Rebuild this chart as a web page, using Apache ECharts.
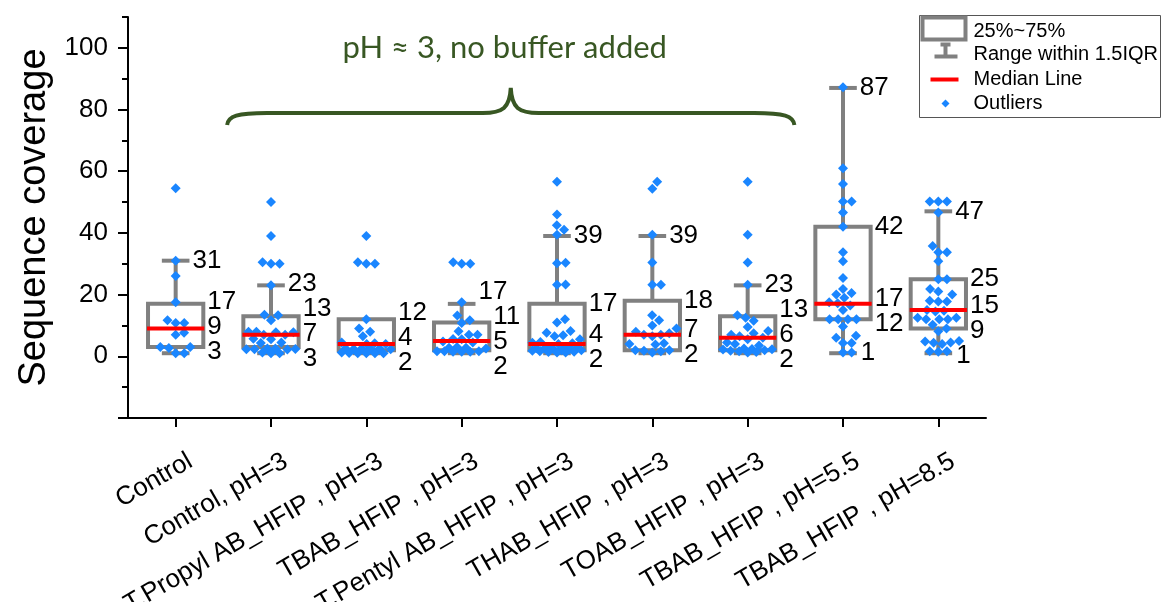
<!DOCTYPE html>
<html>
<head>
<meta charset="utf-8">
<script src="https://cdn.jsdelivr.net/npm/echarts@6/dist/echarts.min.js"></script>
<style>
  html, body { margin: 0; padding: 0; background: #ffffff; }
  #chart { width: 1161px; height: 602px; }
</style>
</head>
<body>
<div id="chart"></div>
<script>
// ---- data ----
const categories = [
  'Control', 'Control, pH=3', 'T.Propyl AB_HFIP , pH=3', 'TBAB_HFIP , pH=3',
  'T.Pentyl AB_HFIP , pH=3', 'THAB_HFIP , pH=3', 'TOAB_HFIP , pH=3',
  'TBAB_HFIP , pH=5.5', 'TBAB_HFIP , pH=8.5'
];

// box statistics (values printed next to each box)
const upperWhisker = [31, 23, 12, 17, 39, 39, 23, 87, 47];
const q3           = [17, 13, 12, 11, 17, 18, 13, 42, 25];
const median       = [9, 7, 4, 5, 4, 7, 6, 17, 15];
const q1           = [3, 3, 2, 2, 2, 2, 2, 12, 9];
const lowerWhisker = [1, 1, 1, 1, 1, 1, 1, 1, 1];
const lowerLabelShown = [false, false, false, false, false, false, false, true, true];

// individual measurements per condition
const ptsControl  = [54.5, 31, 26, 17.5, 11.7, 10.8, 10.8, 7.6, 7, 3, 3, 2.7, 1, 1];
const ptsCtrlPH3  = [50, 39, 30.5, 30, 30, 23, 13.5, 13.3, 11.7, 8, 8, 7.8, 7.8, 7, 7, 5.7, 5.5, 4.5, 4.3,
                     2.5, 2.5, 2.3, 2.3, 2.2, 2.4, 1.2, 1, 1];
const ptsTPropyl  = [39, 30.5, 30, 30, 12, 9, 8, 6.5, 4.5, 4.2, 4, 4, 2.5, 2.5, 2.4, 2.4, 2.3, 2.5,
                     1.2, 1, 1, 1, 1.1, 1];
const ptsTBAB3    = [30.5, 30, 30, 17.5, 13.2, 11.7, 10.8, 8.1, 7, 7, 5.6, 5.5, 4.8, 4.5, 3, 2.8, 2.8,
                     2.5, 1.6, 1.6, 1.5, 1.5, 1.6, 1.5];
const ptsTPentyl  = [56.6, 46, 42.5, 41, 39.4, 30.3, 30.2, 23.3, 23.2, 12, 11, 8.2, 7.6, 6.8, 6.5, 5.5,
                     4.6, 4.4, 4.2, 4, 3, 3, 2.8, 2.6, 2.5, 2.4, 2.2, 2, 2, 1.8, 1.6, 1.5, 1.4, 1.2, 1.2];
const ptsTHAB     = [56.6, 54.3, 39.4, 30.4, 23.2, 23.2, 13.3, 11.7, 10, 9, 8, 7.5, 7, 7, 6.5, 4.2, 4,
                     3.8, 2, 2, 1.8, 1.6, 1.2];
const ptsTOAB     = [56.6, 39.4, 30.4, 23.2, 13.3, 12.5, 11.5, 9.5, 8.2, 7.5, 7, 6.5, 6, 5.5, 4.5, 4,
                     3.5, 2.5, 2.4, 2.3, 2.2, 2, 1.8, 1.6, 1.4, 1.2];
const ptsTBAB55   = [87.2, 61, 55.9, 50.2, 50.2, 46.6, 42, 33.7, 30.8, 25.4, 21.8, 20.5, 20, 19, 17.2,
                     17.5, 16.5, 15, 12, 12, 12, 12, 9.7, 6.7, 6, 4.3, 4.3, 1.2, 1.2];
const ptsTBAB85   = [50.2, 50.2, 50.2, 46.6, 35.8, 33.7, 33.7, 30.8, 25, 25, 21.8, 21, 20, 18, 17.8,
                     17.8, 15, 14.8, 14.5, 12.5, 12.5, 12, 12, 12, 10.2, 9, 8.1, 5, 4.8, 4.5, 4.4, 4,
                     1.6, 1.6, 1.5];
const pointSets = [ptsControl, ptsCtrlPH3, ptsTPropyl, ptsTBAB3, ptsTPentyl, ptsTHAB, ptsTOAB,
                   ptsTBAB55, ptsTBAB85];

// axis ticks
const yMajorTicks = [-20, 0, 20, 40, 60, 80, 100];
const yTickLabels = [0, 20, 40, 60, 80, 100];
const yMinorTicks = [-10, 10, 30, 50, 70, 90, 110];

const annotationText = 'pH \u2248 3, no buffer added';
const legendTexts = ['25%~75%', 'Range within 1.5IQR', 'Median Line', 'Outliers'];

// ---- styles ----
const FONT = '"Liberation Sans", Arial, sans-serif';
const BOX_GRAY = '#808080';
const MEDIAN_RED = '#ff0000';
const POINT_BLUE = '#1a86ff';
const NOTE_GREEN = '#385723';
const BOX_FRAC = 0.58;   // box width relative to category band
const CAP_FRAC = 0.29;   // whisker cap width relative to band

const boxData = categories.map((_, i) => [i, lowerWhisker[i], q1[i], median[i], q3[i], upperWhisker[i]]);
const pointData = [];
pointSets.forEach((vals, c) => vals.forEach((v, k) => pointData.push([c, v, k])));

// simple beeswarm: spread equal-ish values sideways without overlap
function layoutSwarm(cat, api, halfLimit) {
  const vals = pointSets[cat];
  const d = 8.6;
  const ys = vals.map(v => api.coord([cat, v])[1]);
  const order = ys.map((_, k) => k).sort((a, b) => ys[b] - ys[a]);
  const placed = [];
  const offs = new Array(vals.length).fill(0);
  order.forEach(k => {
    const y = ys[k];
    const cands = [0];
    placed.forEach(p => {
      const dy = Math.abs(p.y - y);
      if (dy < d) {
        const dx = Math.sqrt(d * d - dy * dy);
        cands.push(p.x + dx, p.x - dx);
      }
    });
    cands.sort((a, b) => Math.abs(a) - Math.abs(b) || b - a);
    let best = null;
    for (const c of cands) {
      if (Math.abs(c) > halfLimit + 1e-6) continue;
      if (placed.every(p => (p.x - c) ** 2 + (p.y - y) ** 2 >= d * d - 1e-6)) { best = c; break; }
    }
    if (best === null) {
      let bestScore = -1;
      for (let c = -halfLimit; c <= halfLimit; c += 1) {
        let m = Infinity;
        placed.forEach(p => { m = Math.min(m, (p.x - c) ** 2 + (p.y - y) ** 2); });
        if (m > bestScore) { bestScore = m; best = c; }
      }
    }
    placed.push({ x: best, y });
    offs[k] = best;
  });
  return offs;
}

function spreadLabels(items, gap) {
  items.sort((a, b) => a.y - b.y);
  for (let it = 0; it < 200; it++) {
    let moved = false;
    for (let j = 0; j < items.length - 1; j++) {
      const dd = items[j + 1].y - items[j].y;
      if (dd < gap - 0.01) {
        const s = (gap - dd) / 2;
        items[j].y -= s; items[j + 1].y += s; moved = true;
      }
    }
    if (!moved) break;
  }
}

let swarmCache = {};

const chart = echarts.init(document.getElementById('chart'), null, { renderer: 'canvas' });

const option = {
  animation: false,
  backgroundColor: '#ffffff',
  grid: { left: 128, right: 175, top: 17, bottom: 184, containLabel: false, outerBoundsMode: 'none' },
  xAxis: {
    type: 'category',
    data: categories,
    boundaryGap: true,
    axisLine: { show: true, onZero: false, lineStyle: { color: '#000', width: 2 } },
    axisTick: { show: true, alignWithLabel: true, length: 9, lineStyle: { color: '#000', width: 2 } },
    axisLabel: {
      interval: 0, rotate: 30, margin: 50, color: '#000',
      fontSize: 26, fontFamily: FONT, padding: [0, -17, 0, 0]
    },
    splitLine: { show: false }
  },
  yAxis: [
    {
      type: 'value', min: -20, max: 110, position: 'left',
      name: 'Sequence coverage', nameLocation: 'middle', nameGap: 74,
      nameTextStyle: { fontSize: 38, color: '#000', fontFamily: FONT },
      axisLine: { show: true, onZero: false, lineStyle: { color: '#000', width: 2 } },
      axisTick: { show: true, length: 10, customValues: yMajorTicks, lineStyle: { color: '#000', width: 2 } },
      axisLabel: { customValues: yTickLabels, fontSize: 26, color: '#000', fontFamily: FONT, margin: 20 },
      splitLine: { show: false }
    },
    {
      type: 'value', min: -20, max: 110, position: 'left',
      axisLine: { show: false },
      axisTick: { show: true, length: 6, customValues: yMinorTicks, lineStyle: { color: '#000', width: 2 } },
      axisLabel: { show: false },
      splitLine: { show: false }
    }
  ],
  series: [
    {
      // boxes and whiskers
      type: 'custom', name: 'boxes', z: 2, silent: true,
      data: boxData,
      encode: { x: 0, y: [1, 2, 3, 4, 5] },
      renderItem: (params, api) => {
        const i = api.value(0);
        const band = api.size([1, 0])[0];
        const bw = band * BOX_FRAC, cw = band * CAP_FRAC;
        const x = api.coord([i, 0])[0];
        const yLo = api.coord([i, api.value(1)])[1];
        const yQ1 = api.coord([i, api.value(2)])[1];
        const yQ3 = api.coord([i, api.value(4)])[1];
        const yUp = api.coord([i, api.value(5)])[1];
        const ls = { stroke: BOX_GRAY, lineWidth: 4, fill: null };
        const children = [];
        if (yUp < yQ3 - 0.5) {
          children.push({ type: 'line', shape: { x1: x, y1: yQ3, x2: x, y2: yUp }, style: ls });
          children.push({ type: 'line', shape: { x1: x - cw / 2, y1: yUp, x2: x + cw / 2, y2: yUp }, style: ls });
        }
        if (yLo > yQ1 + 0.5) {
          children.push({ type: 'line', shape: { x1: x, y1: yQ1, x2: x, y2: yLo }, style: ls });
          children.push({ type: 'line', shape: { x1: x - cw / 2, y1: yLo, x2: x + cw / 2, y2: yLo }, style: ls });
        }
        children.push({ type: 'rect', shape: { x: x - bw / 2, y: yQ3, width: bw, height: yQ1 - yQ3 },
                        style: { stroke: BOX_GRAY, lineWidth: 4, fill: null } });
        return { type: 'group', children };
      }
    },
    {
      // individual points (swarm)
      type: 'custom', name: 'points', z: 3, silent: true,
      data: pointData,
      encode: { x: 0, y: 1 },
      renderItem: (params, api) => {
        if (params.dataIndexInside === 0) swarmCache = {};
        const cat = api.value(0), k = api.value(2);
        const band = api.size([1, 0])[0];
        if (!swarmCache[cat]) swarmCache[cat] = layoutSwarm(cat, api, band * BOX_FRAC / 2 - 3);
        const p = api.coord([cat, api.value(1)]);
        const px = p[0] + swarmCache[cat][k], py = p[1];
        const r = 5;
        return {
          type: 'polygon',
          shape: { points: [[px, py - r], [px + r, py], [px, py + r], [px - r, py]] },
          style: { fill: POINT_BLUE }
        };
      }
    },
    {
      // median lines
      type: 'custom', name: 'medians', z: 4, silent: true,
      data: boxData,
      encode: { x: 0, y: 3 },
      renderItem: (params, api) => {
        const i = api.value(0);
        const band = api.size([1, 0])[0];
        const bw = band * BOX_FRAC + 2;
        const p = api.coord([i, api.value(3)]);
        return { type: 'line', shape: { x1: p[0] - bw / 2, y1: p[1], x2: p[0] + bw / 2, y2: p[1] },
                 style: { stroke: MEDIAN_RED, lineWidth: 4 } };
      }
    },
    {
      // statistic value labels
      type: 'custom', name: 'labels', z: 5, silent: true,
      data: boxData,
      encode: { x: 0, y: [1, 5] },
      renderItem: (params, api) => {
        const i = api.value(0);
        const band = api.size([1, 0])[0];
        const bw = band * BOX_FRAC, cw = band * CAP_FRAC;
        const x = api.coord([i, 0])[0];
        const items = [];
        const yOf = v => api.coord([i, v])[1];
        if (upperWhisker[i] !== q3[i]) items.push({ v: upperWhisker[i], x: x + cw / 2 + 3, y: yOf(upperWhisker[i]) });
        items.push({ v: q3[i], x: x + bw / 2 + 4, y: yOf(q3[i]) });
        items.push({ v: median[i], x: x + bw / 2 + 4, y: yOf(median[i]) });
        items.push({ v: q1[i], x: x + bw / 2 + 4, y: yOf(q1[i]) });
        if (lowerLabelShown[i]) items.push({ v: lowerWhisker[i], x: x + cw / 2 + 4, y: yOf(lowerWhisker[i]) });
        spreadLabels(items, 25);
        return {
          type: 'group',
          children: items.map(it => ({
            type: 'text',
            style: { text: String(it.v), x: it.x, y: it.y, fill: '#000', fontSize: 26, fontFamily: FONT,
                     align: 'left', verticalAlign: 'middle' }
          }))
        };
      }
    },
    {
      // brace and note over the unbuffered pH 3 conditions
      type: 'custom', name: 'note', z: 6, silent: true,
      data: [[1, 6]],
      encode: { x: [0, 1] },
      renderItem: (params, api) => {
        const band = api.size([1, 0])[0];
        const x0 = api.coord([api.value(0), 0])[0] - band * 0.46;
        const x1 = api.coord([api.value(1), 0])[0] + band * 0.49;
        const xm = (x0 + x1) / 2;
        const yEnd = api.coord([0, 75])[1];
        const arm = yEnd - 12;
        const tip = yEnd - 37;
        const d = `M ${x0} ${yEnd} C ${x0 + 1} ${arm + 3} ${x0 + 10} ${arm} ${x0 + 40} ${arm} ` +
                  `L ${xm - 28} ${arm} C ${xm - 8} ${arm} ${xm - 1} ${arm - 5} ${xm} ${tip} ` +
                  `C ${xm + 1} ${arm - 5} ${xm + 8} ${arm} ${xm + 28} ${arm} ` +
                  `L ${x1 - 40} ${arm} C ${x1 - 10} ${arm} ${x1 - 1} ${arm + 3} ${x1} ${yEnd}`;
        const yText = api.coord([0, 100])[1];
        return {
          type: 'group',
          children: [
            { type: 'path', shape: { pathData: d }, style: { stroke: NOTE_GREEN, lineWidth: 4, fill: null } },
            { type: 'text', style: { text: annotationText, x: xm - 6, y: yText, fill: NOTE_GREEN,
                                     fontSize: 31, fontFamily: 'Lato, "Open Sans", sans-serif',
                                     align: 'center', verticalAlign: 'middle' } }
          ]
        };
      }
    }
  ],
  graphic: [
    {
      type: 'group', left: 919, top: 15, silent: true,
      children: [
        { type: 'rect', shape: { x: 0, y: 0, width: 241, height: 102 },
          style: { fill: '#fff', stroke: '#555', lineWidth: 1 } },
        { type: 'rect', shape: { x: 3, y: 2, width: 43, height: 22 },
          style: { fill: '#fff', stroke: BOX_GRAY, lineWidth: 4 } },
        { type: 'line', shape: { x1: 26, y1: 28, x2: 26, y2: 41 }, style: { stroke: BOX_GRAY, lineWidth: 4 } },
        { type: 'line', shape: { x1: 21, y1: 29, x2: 31, y2: 29 }, style: { stroke: BOX_GRAY, lineWidth: 4 } },
        { type: 'line', shape: { x1: 15, y1: 41, x2: 38, y2: 41 }, style: { stroke: BOX_GRAY, lineWidth: 4 } },
        { type: 'line', shape: { x1: 11, y1: 64, x2: 39, y2: 64 }, style: { stroke: MEDIAN_RED, lineWidth: 4 } },
        { type: 'polygon', shape: { points: [[26, 84], [30, 88], [26, 92], [22, 88]] }, style: { fill: POINT_BLUE } },
        ...legendTexts.map((t, k) => ({
          type: 'text',
          style: { text: t, x: 54, y: [16, 38.5, 63.5, 88][k], fill: '#000', fontSize: 20, fontFamily: FONT,
                   align: 'left', verticalAlign: 'middle' }
        }))
      ]
    }
  ]
};

chart.setOption(option);
</script>
</body>
</html>
